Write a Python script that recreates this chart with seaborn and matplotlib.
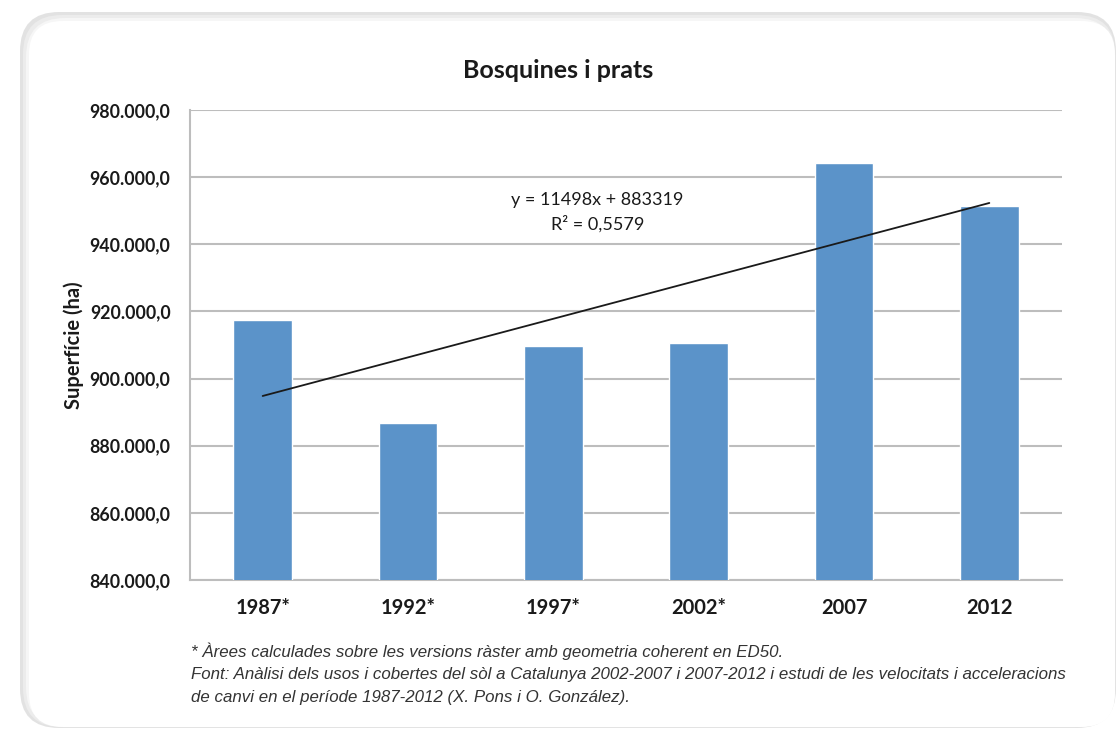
import numpy as np
import pandas as pd
import matplotlib
matplotlib.use("Agg")
import matplotlib.pyplot as plt
from matplotlib.patches import FancyBboxPatch
from matplotlib.ticker import FuncFormatter
import seaborn as sns

# ---- data ----
years = ["1987*", "1992*", "1997*", "2002*", "2007", "2012"]
surface_ha = [917450, 886770, 909700, 910600, 964210, 951490]
trend_slope = 11498
trend_intercept = 883319
r_squared = "0,5579"
y_ticks = [840000, 860000, 880000, 900000, 920000, 940000, 960000, 980000]

title = "Bosquines i prats"
ylabel = "Superfície (ha)"
footnote = ("* Àrees calculades sobre les versions ràster amb geometria coherent en ED50.\n"
            "Font: Anàlisi dels usos i cobertes del sòl a Catalunya 2002-2007 i 2007-2012 i estudi de les velocitats i acceleracions\n"
            "de canvi en el període 1987-2012 (X. Pons i O. González).")

sns.set_theme(style="white")
plt.rcParams["font.family"] = ["Lato", "DejaVu Sans"]

W, H = 1118, 735
fig = plt.figure(figsize=(W / 100, H / 100), dpi=100)
fig.patch.set_facecolor("white")

# card with soft shadow
for i, (pad, col) in enumerate([(0, "#e2e2e2"), (3, "#ececec"), (6, "#f6f6f6")]):
    x0, y0, x1, y1 = 20 + pad, 12 + pad, 1116 - pad * 0.3, 728 - pad * 0.3
    fig.patches.append(FancyBboxPatch(
        (x0 / W, 1 - y1 / H), (x1 - x0) / W, (y1 - y0) / H,
        boxstyle="round,pad=0,rounding_size=0.035", transform=fig.transFigure,
        facecolor=col, edgecolor="none", zorder=-10 + i, mutation_aspect=W / H))
x0, y0, x1, y1 = 29, 21, 1115, 727
fig.patches.append(FancyBboxPatch(
    (x0 / W, 1 - y1 / H), (x1 - x0) / W, (y1 - y0) / H,
    boxstyle="round,pad=0,rounding_size=0.03", transform=fig.transFigure,
    facecolor="white", edgecolor="none", zorder=-5, mutation_aspect=W / H))

ax = fig.add_axes([190 / W, 1 - 580 / H, (1062 - 190) / W, (580 - 110) / H])
ax.set_facecolor("none")

df = pd.DataFrame({"year": years, "ha": surface_ha})
sns.barplot(data=df, x="year", y="ha", color="#5b93c9", saturation=1,
            width=0.405, ax=ax, zorder=3)

xs = np.arange(len(years))
trend = trend_slope * (xs + 1) + trend_intercept
ax.plot(xs, trend, color="#1a1a1a", lw=1.3, zorder=4)

ax.set_ylim(y_ticks[0], y_ticks[-1])
ax.set_yticks(y_ticks)
ax.yaxis.set_major_formatter(FuncFormatter(lambda v, p: f"{int(v):,}".replace(",", ".") + ",0"))
ax.set_xlim(-0.5, len(years) - 0.5)
ax.grid(axis="y", color="#bdbdbd", lw=1.5, zorder=0)
ax.set_axisbelow(True)
for s in ["top", "right"]:
    ax.spines[s].set_visible(False)
for s in ["left", "bottom"]:
    ax.spines[s].set_color("#bdbdbd")
    ax.spines[s].set_linewidth(1.5)
ax.tick_params(axis="both", length=0, labelsize=14.5, colors="#1a1a1a")
ax.tick_params(axis="y", labelsize=12.8, pad=14)
ax.tick_params(axis="x", pad=13)
for lab in ax.get_xticklabels() + ax.get_yticklabels():
    lab.set_fontweight("bold")
ax.set_xlabel("")
ax.set_ylabel(ylabel, fontsize=14.5, fontweight="bold", color="#1a1a1a")
ax.yaxis.set_label_coords(-0.1215, 0.5)

ax.text(0.467, 0.8085, f"y = {trend_slope}x + {trend_intercept}", transform=ax.transAxes,
        ha="center", va="center", fontsize=13, color="#1a1a1a")
ax.text(0.467, 0.757, f"R² = {r_squared}", transform=ax.transAxes,
        ha="center", va="center", fontsize=13, color="#1a1a1a")

fig.text(558 / W, 1 - 70 / H, title, ha="center", va="center",
         fontsize=18, fontweight="bold", color="#1a1a1a")

fig.text(191 / W, 1 - 642 / H, footnote, ha="left", va="top",
         fontsize=12.2, style="italic", color="#333333", linespacing=1.66,
         family=["Liberation Sans", "DejaVu Sans"])

fig.savefig("out.png", dpi=100)
